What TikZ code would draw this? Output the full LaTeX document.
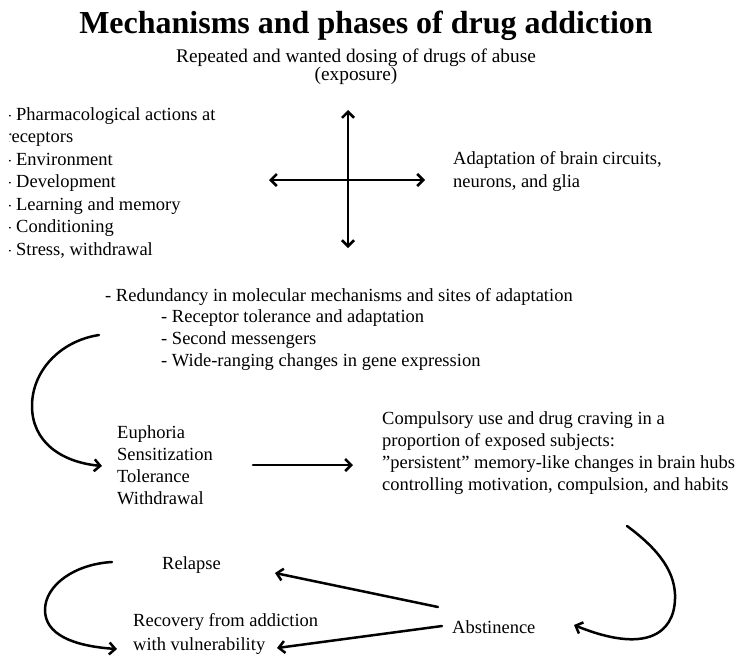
\documentclass[tikz,border=0pt]{standalone}
\usepackage{fontspec}
\setmainfont{Liberation Serif}
\usetikzlibrary{arrows.meta}
\begin{document}
\begin{tikzpicture}[x=1pt,y=-1pt,
  txt/.style={anchor=base west,inner sep=0pt,font=\fontsize{18.5}{22}\selectfont},
  ctxt/.style={anchor=base,inner sep=0pt,font=\fontsize{19.3}{23}\selectfont},
  ttl/.style={anchor=base,inner sep=0pt,font=\fontsize{32}{38}\selectfont\bfseries},
  arr/.style={line width=2.5pt,line cap=round,-{Straight Barb[length=6pt,width=12pt]}},
  darr/.style={line width=2.5pt,{Straight Barb[length=6pt,width=12pt]}-{Straight Barb[length=6pt,width=12pt]}}]
\useasboundingbox (0,0) rectangle (736,659);
% title
\node[ttl] (title) at (366,33) {Mechanisms and phases of drug addiction};
\node[ctxt] (exp1) at (356,62) {Repeated and wanted dosing of drugs of abuse};
\node[ctxt] (exp2) at (356,80) {(exposure)};
% left list (clipped at the left)
\begin{scope}
\clip (9.8,90) rectangle (300,270);
\node[txt] (l1) at (5.2,120) {- Pharmacological actions at};
\node[txt] (l2) at (5.2,142) {receptors};
\node[txt] (l3) at (5.2,165) {- Environment};
\node[txt] (l4) at (5.2,187) {- Development};
\node[txt] (l5) at (5.2,210) {- Learning and memory};
\node[txt] (l6) at (5.2,232) {- Conditioning};
\node[txt] (l7) at (5.2,255) {- Stress, withdrawal};
\end{scope}
% cross
\coordinate (ctop) at (348,110);
\coordinate (cbot) at (348,248);
\coordinate (cleft) at (269,180);
\coordinate (cright) at (425,180);
\draw[darr] (ctop) -- (cbot);
\draw[darr] (cleft) -- (cright);
\node[txt] (ad1) at (453,164) {Adaptation of brain circuits,};
\node[txt] (ad2) at (453,187) {neurons, and glia};
% redundancy
\node[txt] (r1) at (105,301) {- Redundancy in molecular mechanisms and sites of adaptation};
\node[txt] (r2) at (161,322) {- Receptor tolerance and adaptation};
\node[txt] (r3) at (161,344) {- Second messengers};
\node[txt] (r4) at (161,366) {- Wide-ranging changes in gene expression};
% euphoria group
\node[txt] (e1) at (117,438) {Euphoria};
\node[txt] (e2) at (117,460) {Sensitization};
\node[txt] (e3) at (117,482) {Tolerance};
\node[txt] (e4) at (117,504) {Withdrawal};
% compulsory
\node[txt] (c1) at (382,424) {Compulsory use and drug craving in a};
\node[txt] (c2) at (382,446) {proportion of exposed subjects:};
\node[txt] (c3) at (382,468) {”persistent” memory-like changes in brain hubs};
\node[txt] (c4) at (382,490) {controlling motivation, compulsion, and habits};
% bottom
\node[txt] (rel) at (162,569) {Relapse};
\node[txt] (rec1) at (133,626) {Recovery from addiction};
\node[txt] (rec2) at (133,650) {with vulnerability};
\node[txt] (abs) at (452,633) {Abstinence};
% arrows
\coordinate (a1s) at (99,335);
\coordinate (a1e) at (102,466);
\draw[arr] (a1s) .. controls (60,341) and (32,371) .. (32,406) .. controls (32,441) and (60,462) .. (a1e);
\coordinate (a2s) at (253,465);
\coordinate (a2e) at (353,465);
\draw[arr] (a2s) -- (a2e);
\coordinate (a3s) at (627,526);
\coordinate (a3e) at (574,625);
\draw[arr] (a3s) .. controls (661,551) and (676,574) .. (675,599) .. controls (674,634) and (645,654) .. (a3e);
\coordinate (a4s) at (438,607);
\coordinate (a4e) at (275,573);
\draw[arr] (a4s) -- (a4e);
\coordinate (a5s) at (442,626);
\coordinate (a5e) at (277,648);
\draw[arr] (a5s) -- (a5e);
\coordinate (a6s) at (112,562);
\coordinate (a6e) at (117,649);
\draw[arr] (a6s) .. controls (75,564) and (45,585) .. (45,610) .. controls (45,634) and (72,646) .. (a6e);
\end{tikzpicture}
\end{document}
